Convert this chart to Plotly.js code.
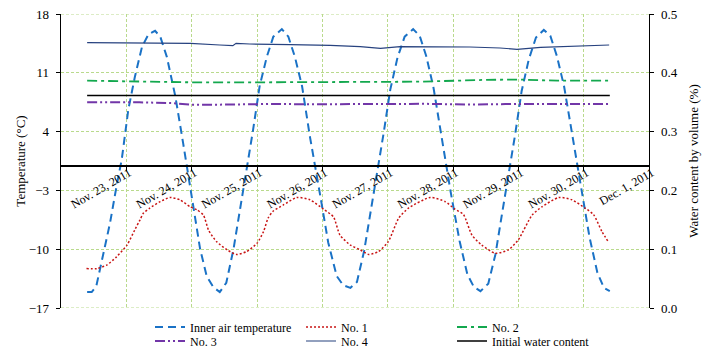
<!DOCTYPE html>
<html>
<head>
<meta charset="utf-8">
<script src="https://cdn.plot.ly/plotly-3.0.1.min.js"></script>
<style>html,body{margin:0;padding:0;background:#fff;}#chart{width:712px;height:352px;}</style>
</head>
<body>
<div id="chart"></div>
<script>
// ---- tick labels ----
const dayTicks = [1, 2, 3, 4, 5, 6, 7, 8, 9];
const dayLabels = ["Nov. 23, 2011", "Nov. 24, 2011", "Nov. 25, 2011", "Nov. 26, 2011", "Nov. 27, 2011",
                   "Nov. 28, 2011", "Nov. 29, 2011", "Nov. 30, 2011", "Dec. 1, 2011"];
const tempTicks = [-17, -10, -3, 4, 11, 18];
const waterTicks = [0, 0.1, 0.2, 0.3, 0.4, 0.5];

// ---- Inner air temperature (°C), time in days from Nov. 22 ----
const airDay = [0.40, 0.47, 0.54, 0.64, 0.75, 0.85, 0.93, 1.03, 1.13, 1.24, 1.34, 1.44, 1.52, 1.62, 1.75, 1.87, 2.00, 2.13, 2.23, 2.33, 2.43,
                2.53, 2.64, 2.74, 2.84, 2.94, 3.04, 3.15, 3.25, 3.38, 3.48, 3.58, 3.69, 3.81, 3.97, 4.09, 4.22, 4.32, 4.43,
                4.53, 4.64, 4.74, 4.84, 4.94, 5.04, 5.15, 5.26, 5.39, 5.49, 5.59, 5.70, 5.82, 5.96, 6.10, 6.22, 6.32, 6.42,
                6.54, 6.65, 6.75, 6.85, 6.95, 7.05, 7.16, 7.27, 7.39, 7.49, 7.59, 7.70, 7.82, 7.96, 8.09, 8.21, 8.31, 8.40];
const airTemp = [-15.1, -15.1, -14.4, -10.8, -6.9, -2.5, 0.7, 6.6, 10.5, 14.1, 15.6, 16.0, 15.3, 12.9, 8.2, 2.6, -3.7, -10.0, -13.2, -14.5, -15.1,
                 -14.0, -10.0, -5.3, -0.5, 4.2, 9.4, 12.9, 15.3, 16.2, 15.3, 12.9, 9.4, 3.4, -3.7, -9.2, -13.2, -14.3, -14.6,
                 -13.9, -10.2, -5.6, -0.9, 3.9, 9.0, 12.8, 15.3, 16.2, 15.4, 13.0, 9.3, 3.6, -3.0, -9.0, -13.0, -14.5, -15.0,
                 -14.1, -10.6, -5.8, -1.2, 3.6, 8.8, 12.6, 15.2, 16.1, 15.4, 13.0, 9.4, 3.8, -2.5, -8.6, -12.8, -14.6, -15.0];

// ---- No. 1 water content ----
const no1Day = [0.39, 0.55, 0.70, 0.85, 1.01, 1.13, 1.21, 1.26, 1.36, 1.52, 1.67, 1.82, 1.98, 2.08, 2.18, 2.26, 2.38, 2.54, 2.69, 2.84,
                3.00, 3.10, 3.17, 3.25, 3.40, 3.61, 3.81, 4.02, 4.17, 4.27, 4.43, 4.58, 4.71, 4.86, 5.01, 5.17, 5.32, 5.65, 5.88,
                6.03, 6.16, 6.29, 6.44, 6.65, 6.85, 7.00, 7.21, 7.36, 7.62, 7.82, 8.02, 8.15, 8.28, 8.38];
const no1Val = [0.067, 0.067, 0.073, 0.087, 0.107, 0.133, 0.150, 0.161, 0.170, 0.181, 0.188, 0.184, 0.172, 0.167, 0.158, 0.132, 0.113, 0.099, 0.091, 0.096,
                0.110, 0.130, 0.153, 0.165, 0.175, 0.188, 0.184, 0.168, 0.155, 0.124, 0.107, 0.099, 0.091, 0.096, 0.113, 0.153, 0.170, 0.188, 0.181,
                0.168, 0.159, 0.124, 0.107, 0.093, 0.099, 0.116, 0.158, 0.172, 0.188, 0.184, 0.170, 0.159, 0.130, 0.112];

// ---- No. 2 ----
const no2Day = [0.40, 1.10, 2.00, 3.00, 4.00, 4.60, 5.50, 6.50, 7.00, 7.60, 8.40];
const no2Val = [0.3866, 0.3849, 0.3838, 0.3838, 0.3840, 0.3849, 0.3849, 0.3880, 0.3885, 0.3866, 0.3866];

// ---- No. 3 ----
const no3Day = [0.40, 1.20, 1.70, 2.00, 2.60, 3.20, 3.80, 4.40, 5.00, 5.60, 6.20, 6.80, 7.40, 8.00, 8.40];
const no3Val = [0.3498, 0.3498, 0.3485, 0.3455, 0.3460, 0.3470, 0.3465, 0.3462, 0.3470, 0.3472, 0.3460, 0.3468, 0.3470, 0.3462, 0.3468];

// ---- No. 4 ----
const no4Day = [0.40, 1.06, 1.67, 1.98, 2.43, 2.63, 2.68, 2.89, 3.51, 4.12, 4.58, 4.89, 5.19, 5.80, 6.26, 6.72, 6.98, 7.34, 7.95, 8.39];
const no4Val = [0.4512, 0.4507, 0.4502, 0.4502, 0.4473, 0.4461, 0.4502, 0.4490, 0.4478, 0.4468, 0.4444, 0.4417, 0.4444, 0.4444, 0.4439, 0.4422, 0.4400, 0.4434, 0.4456, 0.4473];

// ---- Initial water content ----
const initDay = [0.40, 8.40];
const initVal = [0.3614, 0.3614];

const FONT = '"Liberation Serif", serif';
const GRID = "#b9da8c";
const GRIDDASH = "3px,2px";

const traces = [
  {x: airDay, y: airTemp, name: "Inner air temperature", type: "scatter", mode: "lines",
   line: {color: "#1a72c6", width: 2, dash: "8px,5px"}, legend: "legend"},
  {x: no1Day, y: no1Val, name: "No. 1", type: "scatter", mode: "lines", yaxis: "y2",
   line: {color: "#c81414", width: 1.5, dash: "2px,2px", shape: "spline", smoothing: 0.6}, legend: "legend"},
  {x: no2Day, y: no2Val, name: "No. 2", type: "scatter", mode: "lines", yaxis: "y2",
   line: {color: "#13a84e", width: 1.8, dash: "10px,4px,3px,4px"}, legend: "legend"},
  {x: no3Day, y: no3Val, name: "No. 3", type: "scatter", mode: "lines", yaxis: "y2",
   line: {color: "#7236a8", width: 2, dash: "10px,3px,2px,3px,2px,3px"}, legend: "legend2"},
  {x: no4Day, y: no4Val, name: "No. 4", type: "scatter", mode: "lines", yaxis: "y2",
   line: {color: "#27427f", width: 1.2}, legend: "legend2"},
  {x: initDay, y: initVal, name: "Initial water content", type: "scatter", mode: "lines", yaxis: "y2",
   line: {color: "#000000", width: 1.5}, legend: "legend2"}
];

// top and bottom boundary gridlines (at the first and last temperature ticks)
const edgeTicks = [tempTicks[0], tempTicks[tempTicks.length - 1]];
const shapes = edgeTicks.map(v => ({
  type: "line", xref: "paper", x0: 0, x1: 1, yref: "y", y0: v, y1: v, layer: "below",
  line: {color: GRID, width: 1, dash: GRIDDASH}
}));

const layout = {
  width: 712, height: 352,
  margin: {l: 61, r: 63, t: 14, b: 44, autoexpand: false},
  paper_bgcolor: "#ffffff", plot_bgcolor: "#ffffff",
  font: {family: FONT, color: "#000", size: 12},
  showlegend: true,
  shapes: shapes,
  xaxis: {
    range: [0, 9], tickmode: "array", tickvals: dayTicks, ticktext: dayLabels,
    tickangle: -30, anchor: "free", position: 17 / 35,
    showline: true, linecolor: "#000", linewidth: 1.3,
    ticks: "outside", ticklen: 4, tickcolor: "#000",
    ticklabelstandoff: -9, ticklabelshift: 3,
    showgrid: true, gridcolor: GRID, griddash: GRIDDASH, gridwidth: 1,
    zeroline: false, tickfont: {family: FONT, size: 12, color: "#000"}
  },
  yaxis: {
    range: [-17, 18], tickmode: "array", tickvals: tempTicks,
    showline: true, linecolor: "#000", linewidth: 1.3,
    ticks: "outside", ticklen: 4, tickcolor: "#000", ticklabelstandoff: 4,
    showgrid: true, gridcolor: GRID, griddash: GRIDDASH, gridwidth: 1,
    zeroline: false, tickfont: {family: FONT, size: 13, color: "#000"},
    title: {text: "Temperature (°C)", font: {family: FONT, size: 13, color: "#000"}, standoff: 0}
  },
  yaxis2: {
    range: [0, 0.5], overlaying: "y", side: "right", anchor: "x",
    tickmode: "array", tickvals: waterTicks, tickformat: ".1f",
    showline: true, linecolor: "#000", linewidth: 1.3,
    ticks: "outside", ticklen: 4, tickcolor: "#000", ticklabelstandoff: 4,
    showgrid: false, zeroline: false, tickfont: {family: FONT, size: 13, color: "#000"},
    title: {text: "Water content by volume (%)", font: {family: FONT, size: 13, color: "#000"}, standoff: 12}
  },
  legend: {
    x: 0.1514, y: -0.0153, xanchor: "left", yanchor: "top", orientation: "h",
    entrywidth: 106, bgcolor: "rgba(0,0,0,0)", font: {family: FONT, size: 12, color: "#000"}
  },
  legend2: {
    x: 0.1514, y: -0.0629, xanchor: "left", yanchor: "top", orientation: "h",
    entrywidth: 106, bgcolor: "rgba(0,0,0,0)", font: {family: FONT, size: 12, color: "#000"}
  }
};

Plotly.newPlot("chart", traces, layout, {displayModeBar: false, staticPlot: true});
</script>
</body>
</html>
